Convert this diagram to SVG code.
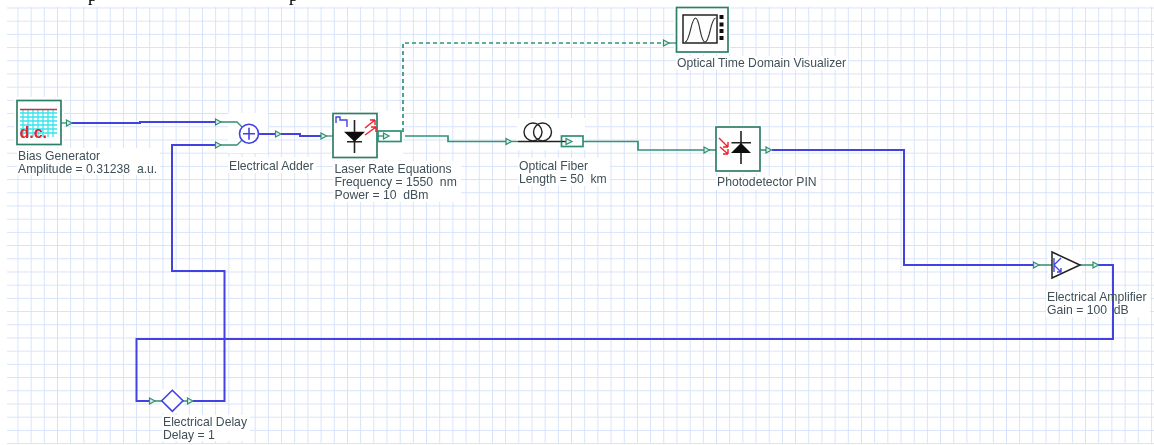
<svg xmlns="http://www.w3.org/2000/svg" width="1154" height="445" viewBox="0 0 1154 445">
<defs>
<pattern id="grid" x="4.3" y="7.5" width="13.18" height="13.2" patternUnits="userSpaceOnUse"><path d="M0 0H13.18M0 0V13.2" fill="none" stroke="#d6e2fb" stroke-width="1.900"/></pattern>
<g id="port"><path d="M-2.500 -3L3 0L-2.500 3Z" fill="#dff0ea" stroke="#2f8f72" stroke-width="1.200"/></g>
<filter id="soft" x="0" y="0" width="100%" height="100%" filterUnits="objectBoundingBox"><feGaussianBlur stdDeviation="0.35"/></filter>
</defs>
<style>
.t{font-family:"Liberation Sans",Arial,sans-serif;font-size:12.2px;fill:#3f5058;white-space:pre}
.e{fill:none;stroke:#4242e2;stroke-width:2}
.o{fill:none;stroke:#2f9478;stroke-width:1.700}
.l{fill:none;stroke:#2f8f72;stroke-width:1.300}
.b{fill:#fff;stroke:#2f7f68;stroke-width:1.700}
.k{fill:none;stroke:#222;stroke-width:1.400}
.r{fill:none;stroke:#ee2028;stroke-width:1.400}
.u{font-family:"Liberation Serif",serif;font-size:18px;fill:#000}
.w{fill:#fff}
</style>
<rect width="1154" height="445" fill="#fff"/>
<g filter="url(#soft)">
<rect x="7" y="7" width="1147" height="437" fill="url(#grid)"/>
<text class="u" x="88" y="1">p</text><text class="u" x="289" y="1">p</text>
<g id="backgrounds">
<rect class="w" x="14" y="97" width="50" height="50"/><rect class="w" x="17" y="148" width="143" height="27"/>
<rect class="w" x="228" y="113" width="40" height="40"/><rect class="w" x="228" y="157" width="88" height="16"/>
<rect class="w" x="331" y="111" width="72" height="49"/><rect class="w" x="333" y="161" width="128" height="41"/>
<rect class="w" x="517" y="118" width="68" height="32"/><rect class="w" x="518" y="158" width="92" height="28"/>
<rect class="w" x="674" y="7" width="56" height="47"/><rect class="w" x="676" y="56" width="172" height="14"/>
<rect class="w" x="714" y="125" width="48" height="48"/><rect class="w" x="716" y="176" width="104" height="14"/>
<rect class="w" x="1048" y="250" width="34" height="30"/><rect class="w" x="1046" y="291" width="104" height="26"/>
<rect class="w" x="160" y="389" width="24" height="24"/><rect class="w" x="162" y="415" width="88" height="26"/>
</g>
<g id="connectors">
<path class="l" d="M61 123H67"/>
<path class="e" d="M72 123H140V122H216"/>
<path class="l" d="M220 122H237L243 128M220 145H237L243 139"/>
<path class="e" d="M216 145H172V271H224.500V401H193"/>
<path class="e" d="M259 134H275M281 134H300V136H321"/>
<path class="l" d="M326 136H333"/>
<path class="o" d="M405 136H448V141.500H506"/>
<path class="o" stroke-dasharray="4 3" d="M403 132V43H663"/>
<path class="l" d="M511 141.500H518"/>
<path class="o" d="M583 141.500H638V150H704"/>
<path class="l" d="M709 150H716M760 150H766"/>
<path class="e" d="M772 150H904V265H1034"/>
<path class="l" d="M1039 265H1052M1080 265H1093"/>
<path class="e" d="M1098 265H1113V339H136.500V401H150"/>
<path class="l" d="M155 401H162M182 401H188"/>
<path class="l" d="M668 43H676"/>
</g>
<g id="ports">
<use href="#port" x="69" y="123"/><use href="#port" x="218" y="122"/><use href="#port" x="218" y="145"/><use href="#port" x="278" y="134"/><use href="#port" x="323.500" y="136"/><use href="#port" x="508.500" y="141.500"/><use href="#port" x="666" y="43"/><use href="#port" x="706.500" y="150"/><use href="#port" x="768.500" y="150"/><use href="#port" x="1036" y="265"/><use href="#port" x="1095.500" y="265"/><use href="#port" x="152" y="401"/><use href="#port" x="190" y="401"/>
</g>
<g id="bias-generator">
<rect class="b" x="17" y="100.500" width="44" height="44"/>
<path d="M20 113H57M20 117H57M20 121H57M20 125H57M20 129H57M20 133H57M23 110V137M28 110V137M33 110V137M38 110V137M43 110V137M48 110V137M53 110V137" stroke="#35e5ee" stroke-width="1.300" fill="none"/>
<path d="M20 109.500H57" stroke="#c8323c" stroke-width="1.600"/>
<text x="19.500" y="137.500" font-family="'Liberation Sans',sans-serif" font-size="16" font-weight="700" fill="#e8202a">d.c.</text>
<text class="t" x="18" y="159.500">Bias Generator</text><text class="t" x="18" y="172.500">Amplitude = 0.31238  a.u.</text>
</g>
<g id="electrical-adder">
<circle cx="249" cy="133.700" r="9.500" fill="#fff" stroke="#4242e2" stroke-width="1.600"/><path d="M243 133.700H255M249 127.700V139.700" stroke="#4242e2" stroke-width="1.600"/>
<text class="t" x="229" y="170">Electrical Adder</text>
</g>
<g id="laser-rate-equations">
<rect class="b" x="333" y="113.500" width="44" height="44"/>
<path d="M336 123V117H340V120H347V127" fill="none" stroke="#4242e2" stroke-width="1.400"/>
<path d="M354.500 120V153M347 141.700H362" stroke="#222" stroke-width="1.600"/><path d="M344 131.700H365L354.500 141.700Z" fill="#111"/>
<path class="r" d="M365 128L375 120M375 120H370M375 120V125M365 135L376 127M376 127H371M376 127V132"/>
<rect x="378" y="131" width="23" height="10.500" fill="#fff" stroke="#2f8f72" stroke-width="1.700"/>
<path class="l" d="M378 136H383"/><path d="M383.500 133L389 136L383.500 139Z" fill="#dff0ea" stroke="#2f8f72" stroke-width="1.200"/>
<text class="t" x="334.500" y="172.500">Laser Rate Equations</text><text class="t" x="334.500" y="185.800">Frequency = 1550  nm</text><text class="t" x="334.500" y="199">Power = 10  dBm</text>
</g>
<g id="optical-fiber">
<path class="k" d="M518 141.500H561"/><circle class="k" cx="533" cy="132" r="9"/><circle class="k" cx="542.500" cy="132" r="9"/>
<rect x="561.500" y="136" width="21.500" height="10.500" fill="#fff" stroke="#2f8f72" stroke-width="1.700"/>
<path class="k" d="M561.500 141.500H566" stroke-width="1"/>
<path d="M566 138.500L572 141.500L566 144.500Z" fill="#dff0ea" stroke="#2f8f72" stroke-width="1.200"/>
<text class="t" x="519" y="170">Optical Fiber</text><text class="t" x="519" y="183">Length = 50  km</text>
</g>
<g id="optical-time-domain-visualizer">
<rect class="b" x="676.500" y="7.500" width="51.500" height="44.500"/>
<rect x="683" y="15" width="34" height="28" fill="#fff" stroke="#222" stroke-width="1.500"/>
<path d="M685 42C690 42 691 18 695.500 18C700 18 700 42 705 42C710 42 710 20 715.500 18" fill="none" stroke="#333" stroke-width="1.200"/>
<path d="M719.500 15h4v4h-4zM719.500 22.500h4v4h-4zM719.500 29h4v4h-4zM719.500 36h4v4h-4z" fill="#111"/>
<text class="t" x="677" y="66.500">Optical Time Domain Visualizer</text>
</g>
<g id="photodetector-pin">
<rect class="b" x="716" y="127" width="44" height="44"/>
<path d="M741 131V164M731.500 142.700H751" stroke="#222" stroke-width="1.600"/><path d="M731 153H751L741 143Z" fill="#111"/>
<path class="r" d="M719 138L728 147M728 147H723M728 147V142M720 147L728 154M728 154H723M728 154V149"/>
<text class="t" x="717" y="186">Photodetector PIN</text>
</g>
<g id="electrical-amplifier">
<path d="M1052 252L1080 265L1052 278Z" fill="#fff" stroke="#222" stroke-width="1.500"/>
<path d="M1054 258V272M1054 265L1061 258M1054 265L1061 272M1061 268V272H1057" fill="none" stroke="#4242e2" stroke-width="1.400"/>
<text class="t" x="1047" y="301">Electrical Amplifier</text><text class="t" x="1047" y="314">Gain = 100  dB</text>
</g>
<g id="electrical-delay">
<path d="M172.300 390.300L183 400.800L172.300 411.300L161.700 400.800Z" fill="#fff" stroke="#4242e2" stroke-width="1.600"/>
<text class="t" x="163" y="425.700">Electrical Delay</text><text class="t" x="163" y="438.500">Delay = 1</text>
</g>
</g>
</svg>
